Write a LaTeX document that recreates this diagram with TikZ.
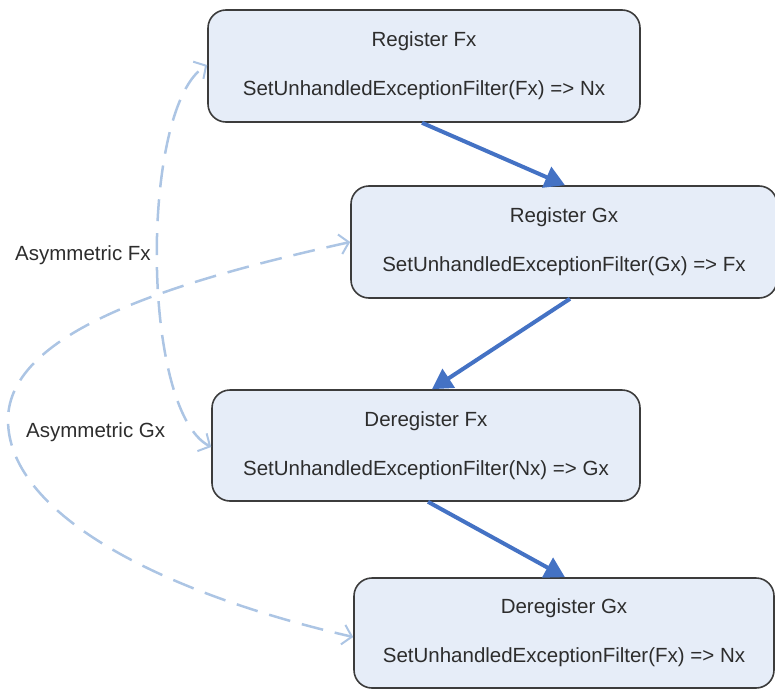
\documentclass[tikz,border=0pt]{standalone}
\usepackage{fontspec}
\setmainfont{Liberation Sans}
\usetikzlibrary{arrows.meta}
\definecolor{boxfill}{RGB}{230,237,248}
\definecolor{boxline}{RGB}{60,60,60}
\definecolor{flowblue}{RGB}{68,114,196}
\definecolor{dashblue}{RGB}{172,197,228}
\definecolor{txt}{RGB}{45,45,45}
\tikzset{
  stepbox/.style={draw=boxline, line width=1.6pt, fill=boxfill, rounded corners=18pt,
    inner sep=0pt, text=txt, align=center,
    font=\fontsize{20.5}{49}\selectfont},
  flow/.style={draw=flowblue, line width=4pt, -{Triangle[length=20pt,width=22pt]}},
  asym/.style={draw=dashblue, line width=2.5pt, dash pattern=on 22pt off 12pt,
    {Straight Barb[length=9pt,width=20pt,line width=2pt]}-{Straight Barb[length=9pt,width=20pt,line width=2pt]}},
  lbl/.style={text=txt, font=\fontsize{20.5}{24}\selectfont, inner sep=0pt}
}
\begin{document}
\begin{tikzpicture}[x=1pt,y=-1pt]
\useasboundingbox (0,0) rectangle (775,690);
\node[stepbox, minimum width=432pt, minimum height=112pt] (b1) at (424,66)
  {Register Fx\\SetUnhandledExceptionFilter(Fx) => Nx};
\node[stepbox, minimum width=426pt, minimum height=112pt] (b2) at (564,242)
  {Register Gx\\SetUnhandledExceptionFilter(Gx) => Fx};
\node[stepbox, minimum width=428pt, minimum height=111pt] (b3) at (426,445.5)
  {Deregister Fx\\SetUnhandledExceptionFilter(Nx) => Gx};
\node[stepbox, minimum width=420pt, minimum height=110pt] (b4) at (564,633)
  {Deregister Gx\\SetUnhandledExceptionFilter(Fx) => Nx};
\draw[flow] (b1.south -| 422,0) -- (b2.north -| 565,0);
\draw[flow] (b2.south -| 570,0) -- (b3.north -| 432,0);
\draw[flow] (b3.south -| 428,0) -- (b4.north -| 565,0);
\draw[asym] (b3.west |- 0,447) .. controls (140,410) and (140,105) .. (b1.west |- 0,65);
\draw[asym] (b2.west |- 0,242) .. controls (180,280) and (8,330) .. (8,420)
  .. controls (8,510) and (150,590) .. (b4.west |- 0,637);
\node[lbl, anchor=west] (lfx) at (15,255) {Asymmetric Fx};
\node[lbl, anchor=west] (lgx) at (26,432) {Asymmetric Gx};
\end{tikzpicture}
\end{document}
